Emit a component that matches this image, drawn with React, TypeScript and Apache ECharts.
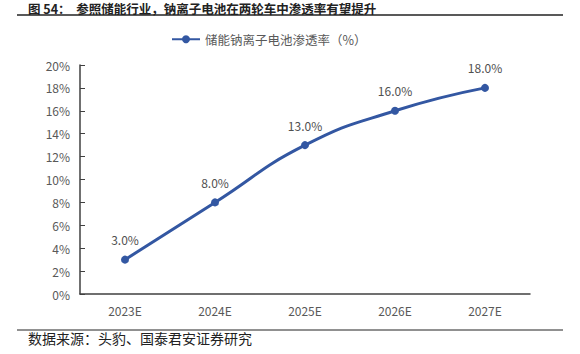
import React, { useEffect, useRef } from "react";
import * as echarts from "echarts";

const categories = ["2023E", "2024E", "2025E", "2026E", "2027E"];
const values = [3, 8, 13, 16, 18];
const seriesName = "储能钠离子电池渗透率（%）";
const titleText = "图 54：  参照储能行业，钠离子电池在两轮车中渗透率有望提升";
const sourceText = "数据来源：头豹、国泰君安证券研究";

export default function App() {
  const ref = useRef<HTMLDivElement>(null);
  useEffect(() => {
    const chart = echarts.init(ref.current!, null, { renderer: "svg" });
    const lineColor = "#3357a2";
    chart.setOption({
      animation: false,
      textStyle: { fontFamily: "Noto Sans CJK SC, sans-serif" },
      graphic: [
        {
          type: "text",
          x: 28,
          y: 8,
          style: {
            text: titleText,
            fontSize: 12.5,
            fontWeight: "bold",
            verticalAlign: "middle",
            fill: "#222",
            fontFamily: "Noto Sans CJK SC",
          },
        },
        {
          type: "line",
          shape: { x1: 17, y1: 15, x2: 563, y2: 15 },
          style: { stroke: "#222", lineWidth: 1.5 },
        },
        {
          type: "line",
          shape: { x1: 17, y1: 330, x2: 563, y2: 330 },
          style: { stroke: "#222", lineWidth: 1 },
        },
        {
          type: "text",
          left: 28,
          top: 331,
          style: {
            text: sourceText,
            fontSize: 14,
            fill: "#222",
            fontFamily: "Noto Sans CJK SC",
          },
        },
      ],
      legend: {
        top: 28,
        left: 166,
        itemWidth: 28,
        itemHeight: 10,
        textStyle: { color: "#595959", fontSize: 12.5 },
        data: [seriesName],
      },
      grid: { left: 80, right: 50, top: 65, bottom: 60, containLabel: false },
      xAxis: {
        type: "category",
        data: categories,
        axisLine: { lineStyle: { color: "#404040", width: 1.5 } },
        axisTick: { show: false },
        axisLabel: { color: "#595959", fontSize: 12, margin: 10 },
      },
      yAxis: {
        type: "value",
        min: 0,
        max: 20,
        interval: 2,
        axisLine: { show: true, lineStyle: { color: "#404040", width: 1.5 } },
        axisTick: { show: true, inside: true, length: 5, lineStyle: { color: "#404040" } },
        splitLine: { show: false },
        axisLabel: { color: "#595959", fontSize: 12, formatter: "{value}%", margin: 10 },
      },
      series: [
        {
          name: seriesName,
          type: "line",
          data: values,
          smooth: true,
          symbol: "circle",
          symbolSize: 8,
          lineStyle: { color: lineColor, width: 3 },
          itemStyle: { color: lineColor },
          label: {
            show: true,
            position: "top",
            distance: 10,
            color: "#505050",
            fontSize: 12,
            formatter: (p: any) => p.value.toFixed(1) + "%",
          },
        },
      ],
    });
    return () => chart.dispose();
  }, []);
  return (
    <div
      ref={ref}
      style={{ position: "fixed", left: 0, top: 0, width: 580, height: 354, background: "#fff" }}
    />
  );
}
